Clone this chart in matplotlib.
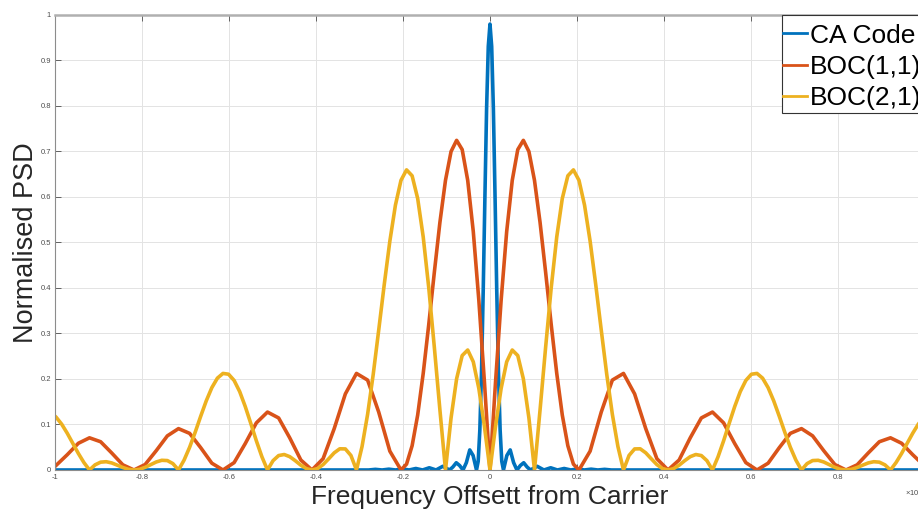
import numpy as np
import matplotlib
matplotlib.use('Agg')
import matplotlib.pyplot as plt
from matplotlib.patches import Rectangle

plt.rcParams['font.family'] = ['Liberation Sans', 'DejaVu Sans']
plt.rcParams['axes.unicode_minus'] = False

# frequency offset in units of 1e7 Hz
freq_ca = [-1.0, -0.279, -0.2635, -0.248, -0.2325, -0.217, -0.2015, -0.186, -0.1705, -0.155,
           -0.1395, -0.124, -0.1085, -0.093, -0.0853, -0.0775, -0.0698, -0.062, -0.0543,
           -0.0465, -0.0388, -0.031, -0.0271, -0.0233, -0.0194, -0.0155, -0.0116, -0.0078,
           -0.0039, 0.0, 0.0039, 0.0078, 0.0116, 0.0155, 0.0194, 0.0233, 0.0271, 0.031,
           0.0388, 0.0465, 0.0543, 0.062, 0.0698, 0.0775, 0.0853, 0.093, 0.1085, 0.124,
           0.1395, 0.155, 0.1705, 0.186, 0.2015, 0.217, 0.2325, 0.248, 0.2635, 0.279, 1.0]
psd_ca = [0.0, 0.0, 0.0014, 0.0, 0.0018, 0.0, 0.0024, 0.0, 0.0033, 0.0,
          0.0049, 0.0, 0.0081, 0.0, 0.0066, 0.0159, 0.0098, 0.0, 0.0162,
          0.0441, 0.0318, 0.0, 0.019, 0.0883, 0.217, 0.397, 0.603, 0.794,
          0.931, 0.98, 0.931, 0.794, 0.603, 0.397, 0.217, 0.0883, 0.019, 0.0,
          0.0318, 0.0441, 0.0162, 0.0, 0.0098, 0.0159, 0.0066, 0.0, 0.0081, 0.0,
          0.0049, 0.0, 0.0033, 0.0, 0.0024, 0.0, 0.0018, 0.0, 0.0014, 0.0, 0.0]

freq_boc11 = [-1.0, -0.9719, -0.9463, -0.9207, -0.8951, -0.8696, -0.8440, -0.8184,
              -0.7928, -0.7673, -0.7417, -0.7161, -0.6905, -0.6650, -0.6394, -0.6138,
              -0.5882, -0.5627, -0.5371, -0.5115, -0.4859, -0.4604, -0.4348, -0.4092,
              -0.3836, -0.3581, -0.3325, -0.3069, -0.2813, -0.2558, -0.2302, -0.2046,
              -0.1918, -0.1790, -0.1662, -0.1535, -0.1407, -0.1279, -0.1151, -0.1023,
              -0.0895, -0.0767, -0.0639, -0.0512, -0.0384, -0.0256, -0.0128, 0.0,
              0.0128, 0.0256, 0.0384, 0.0512, 0.0639, 0.0767, 0.0895, 0.1023,
              0.1151, 0.1279, 0.1407, 0.1535, 0.1662, 0.1790, 0.1918, 0.2046,
              0.2302, 0.2558, 0.2813, 0.3069, 0.3325, 0.3581, 0.3836, 0.4092,
              0.4348, 0.4604, 0.4859, 0.5115, 0.5371, 0.5627, 0.5882, 0.6138,
              0.6394, 0.6650, 0.6905, 0.7161, 0.7417, 0.7673, 0.7928, 0.8184,
              0.8440, 0.8696, 0.8951, 0.9207, 0.9463, 0.9719, 1.0]
psd_boc11 = [0.0078, 0.0335, 0.0587, 0.0707, 0.0621, 0.0374, 0.0113, 0.0,
             0.0120, 0.0424, 0.0750, 0.0909, 0.0805, 0.0490, 0.0149, 0.0,
             0.0162, 0.0579, 0.1035, 0.1273, 0.1144, 0.0707, 0.0219, 0.0,
             0.0249, 0.0909, 0.1672, 0.2122, 0.1976, 0.1273, 0.0414, 0.0,
             0.0129, 0.0533, 0.1209, 0.2122, 0.3201, 0.4347, 0.5443, 0.6366,
             0.6999, 0.7245, 0.7042, 0.6366, 0.5241, 0.3728, 0.1938, 0.0,
             0.1938, 0.3728, 0.5241, 0.6366, 0.7042, 0.7245, 0.6999, 0.6366,
             0.5443, 0.4347, 0.3201, 0.2122, 0.1209, 0.0533, 0.0129, 0.0,
             0.0414, 0.1273, 0.1976, 0.2122, 0.1672, 0.0909, 0.0249, 0.0,
             0.0219, 0.0707, 0.1144, 0.1273, 0.1035, 0.0579, 0.0162, 0.0,
             0.0149, 0.0490, 0.0805, 0.0909, 0.0750, 0.0424, 0.0120, 0.0,
             0.0113, 0.0374, 0.0621, 0.0707, 0.0587, 0.0335, 0.0078]

freq_boc21 = [-1.0, -0.9974, -0.9846, -0.9719, -0.9591, -0.9463, -0.9335, -0.9207, -0.9079,
              -0.8951, -0.8823, -0.8696, -0.8568, -0.8440, -0.8312, -0.8184, -0.8056,
              -0.7928, -0.7800, -0.7673, -0.7545, -0.7417, -0.7289, -0.7161, -0.7033,
              -0.6905, -0.6777, -0.6650, -0.6522, -0.6394, -0.6266, -0.6138, -0.6010,
              -0.5882, -0.5754, -0.5627, -0.5499, -0.5371, -0.5243, -0.5115, -0.4987,
              -0.4859, -0.4731, -0.4604, -0.4476, -0.4348, -0.4220, -0.4092, -0.3964,
              -0.3836, -0.3708, -0.3581, -0.3453, -0.3325, -0.3197, -0.3069, -0.2941,
              -0.2813, -0.2685, -0.2558, -0.2430, -0.2302, -0.2174, -0.2046, -0.1918,
              -0.1790, -0.1662, -0.1535, -0.1407, -0.1279, -0.1151, -0.1023, -0.0895,
              -0.0767, -0.0639, -0.0512, -0.0384, -0.0256, -0.0128, 0.0,
              0.0128, 0.0256, 0.0384, 0.0512, 0.0639, 0.0767, 0.0895, 0.1023,
              0.1151, 0.1279, 0.1407, 0.1535, 0.1662, 0.1790, 0.1918, 0.2046,
              0.2174, 0.2302, 0.2430, 0.2558, 0.2685, 0.2813, 0.2941, 0.3069,
              0.3197, 0.3325, 0.3453, 0.3581, 0.3708, 0.3836, 0.3964, 0.4092,
              0.4220, 0.4348, 0.4476, 0.4604, 0.4731, 0.4859, 0.4987, 0.5115,
              0.5243, 0.5371, 0.5499, 0.5627, 0.5754, 0.5882, 0.6010, 0.6138,
              0.6266, 0.6394, 0.6522, 0.6650, 0.6777, 0.6905, 0.7033, 0.7161,
              0.7289, 0.7417, 0.7545, 0.7673, 0.7800, 0.7928, 0.8056, 0.8184,
              0.8312, 0.8440, 0.8568, 0.8696, 0.8823, 0.8951, 0.9079, 0.9207,
              0.9335, 0.9463, 0.9591, 0.9719, 0.9846, 0.9974, 1.0]
psd_boc21 = [0.1183, 0.1161, 0.1007, 0.0809, 0.0587, 0.0364, 0.0163, 0.0, 0.0113,
             0.0172, 0.0182, 0.0155, 0.0106, 0.0054, 0.0015, 0.0, 0.0015,
             0.0058, 0.0117, 0.0176, 0.0213, 0.0207, 0.0140, 0.0, 0.0216,
             0.0499, 0.0830, 0.1182, 0.1521, 0.1810, 0.2019, 0.2122, 0.2105,
             0.1968, 0.1723, 0.1397, 0.1024, 0.0642, 0.0290, 0.0, 0.0205,
             0.0317, 0.0340, 0.0293, 0.0204, 0.0105, 0.0029, 0.0, 0.0031,
             0.0119, 0.0246, 0.0377, 0.0466, 0.0463, 0.0320, 0.0, 0.0516,
             0.1225, 0.2096, 0.3074, 0.4082, 0.5029, 0.5820, 0.6366, 0.6596,
             0.6466, 0.5966, 0.5123, 0.4001, 0.2695, 0.1319, 0.0, 0.1143,
             0.2005, 0.2515, 0.2637, 0.2378, 0.1791, 0.0960, 0.0,
             0.0960, 0.1791, 0.2378, 0.2637, 0.2515, 0.2005, 0.1143, 0.0,
             0.1319, 0.2695, 0.4001, 0.5123, 0.5966, 0.6466, 0.6596, 0.6366,
             0.5820, 0.5029, 0.4082, 0.3074, 0.2096, 0.1225, 0.0516, 0.0,
             0.0320, 0.0463, 0.0466, 0.0377, 0.0246, 0.0119, 0.0031, 0.0,
             0.0029, 0.0105, 0.0204, 0.0293, 0.0340, 0.0317, 0.0205, 0.0,
             0.0290, 0.0642, 0.1024, 0.1397, 0.1723, 0.1968, 0.2105, 0.2122,
             0.2019, 0.1810, 0.1521, 0.1182, 0.0830, 0.0499, 0.0216, 0.0,
             0.0140, 0.0207, 0.0213, 0.0176, 0.0117, 0.0058, 0.0015, 0.0,
             0.0015, 0.0054, 0.0106, 0.0155, 0.0182, 0.0172, 0.0113, 0.0,
             0.0163, 0.0364, 0.0587, 0.0809, 0.1007, 0.1161, 0.1183]

labels = ['CA Code', 'BOC(1,1)', 'BOC(2,1)']
colors = ['#0072BD', '#D95319', '#EDB120']

xticks = [-1, -0.8, -0.6, -0.4, -0.2, 0, 0.2, 0.4, 0.6, 0.8, 1]
xtick_labels = ['-1', '-0.8', '-0.6', '-0.4', '-0.2', '0', '0.2', '0.4', '0.6', '0.8', '1']
yticks = [0, 0.1, 0.2, 0.3, 0.4, 0.5, 0.6, 0.7, 0.8, 0.9, 1]
ytick_labels = ['0', '0.1', '0.2', '0.3', '0.4', '0.5', '0.6', '0.7', '0.8', '0.9', '1']

fig = plt.figure(figsize=(9.18, 5.15), dpi=100)
ax = fig.add_axes([0.0599, 0.0874, 0.9477, 0.8835])

series = [(freq_ca, psd_ca), (freq_boc11, psd_boc11), (freq_boc21, psd_boc21)]
for (f, p), lab, c in zip(series, labels, colors):
    ax.plot(f, p, color=c, lw=2.6, label=lab, solid_joinstyle='round')

ax.set_xlim(-1, 1)
ax.set_ylim(0, 1)
ax.set_xticks(xticks)
ax.set_xticklabels(xtick_labels)
ax.set_yticks(yticks)
ax.set_yticklabels(ytick_labels)
ax.tick_params(direction='in', length=4, width=0.6, colors='#4d4d4d',
               labelsize=5.5, top=True, right=True, pad=3)
ax.grid(True, color='#e3e3e3', lw=0.7)
ax.set_axisbelow(True)
for s in ax.spines.values():
    s.set_color('#8c8c8c')
    s.set_linewidth(0.8)
ax.spines['top'].set_color('#b0b0b0')
ax.spines['top'].set_linewidth(1.8)

ax.set_xlabel('Frequency Offsett from Carrier', fontsize=19, color='#262626', labelpad=3)
ax.set_ylabel('Normalised PSD', fontsize=19.5, color='#262626', labelpad=1)

# legend box drawn separately so the entries can sit tight to its left edge
ax.add_patch(Rectangle((0.8356, 0.7846), 0.3, 0.2154, transform=ax.transAxes,
                       facecolor='white', edgecolor='#333333', lw=0.8,
                       clip_on=False, zorder=4.5))
leg = ax.legend(loc='upper left', bbox_to_anchor=(0.8356, 0.984), fontsize=19,
                borderaxespad=0, borderpad=0.05, labelspacing=0.28,
                handlelength=0.9, handletextpad=0.1, frameon=False)
for h in leg.get_lines():
    h.set_linewidth(2.0)

fig.text(0.986, 0.0447, '×10$^{7}$', fontsize=5.5, color='#4d4d4d', va='center', ha='left')

fig.savefig('out.png', dpi=100)
